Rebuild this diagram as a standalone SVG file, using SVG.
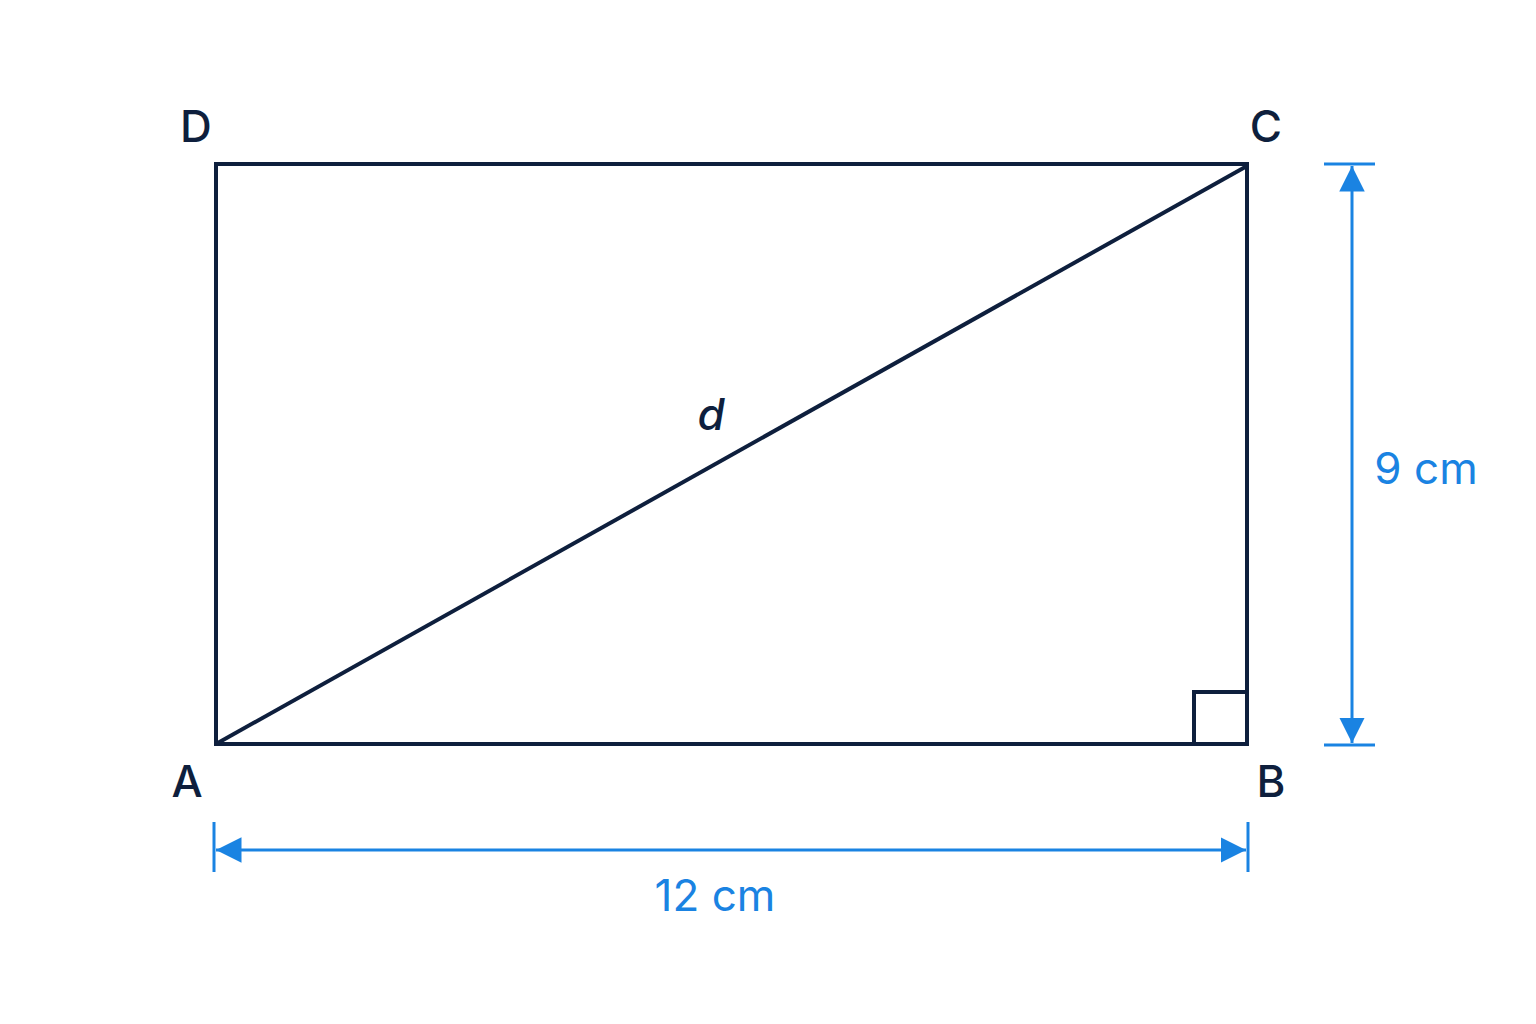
<svg xmlns="http://www.w3.org/2000/svg" width="1536" height="1024" viewBox="0 0 1536 1024">
<style>
.shape{fill:none;stroke:#0e1f3d;stroke-width:4;stroke-linejoin:miter}
.lbl{font-family:"Inter","Noto Sans",sans-serif;font-size:44px;fill:#0e1f3d;font-weight:500;text-anchor:middle}
.dim{stroke:#1a83e2;stroke-width:3;fill:none}
.dimt{font-family:"Inter","Noto Sans",sans-serif;font-size:44px;fill:#1a83e2;text-anchor:middle}
</style>
<defs>
<marker id="ah" viewBox="0 0 10 10" refX="10" refY="5" markerWidth="8.5" markerHeight="8.5" markerUnits="strokeWidth" orient="auto-start-reverse">
<path d="M0,0 L10,5 L0,10 Z" fill="#1a83e2"/>
</marker>
</defs>
<rect width="1536" height="1024" fill="#ffffff"/>
<g id="rectangle">
<rect class="shape" x="216" y="164" width="1031" height="580"/>
<path class="shape" d="M1194,744 V692 H1247" stroke-width="3"/>
</g>
<g id="diagonal">
<line class="shape" x1="216" y1="744" x2="1247" y2="166"/>
<text x="711" y="430" class="lbl" font-style="italic" font-weight="400">d</text>
</g>
<g id="vertices">
<text class="lbl" x="196" y="142">D</text>
<text class="lbl" x="1266" y="142">C</text>
<text class="lbl" x="187" y="797">A</text>
<text class="lbl" x="1271" y="797">B</text>
</g>
<g id="connectors">
<line class="dim" x1="1324" y1="164" x2="1375" y2="164"/>
<line class="dim" x1="1324" y1="745" x2="1375" y2="745"/>
<line class="dim" x1="1352" y1="166" x2="1352" y2="743" marker-start="url(#ah)" marker-end="url(#ah)"/>
<line class="dim" x1="214" y1="822" x2="214" y2="872"/>
<line class="dim" x1="1248" y1="822" x2="1248" y2="872"/>
<line class="dim" x1="216" y1="850" x2="1246" y2="850" marker-start="url(#ah)" marker-end="url(#ah)"/>
</g>
<g id="dimension-labels">
<text class="dimt" x="1426" y="484">9 cm</text>
<text class="dimt" x="715" y="911">12 cm</text>
</g>
</svg>
